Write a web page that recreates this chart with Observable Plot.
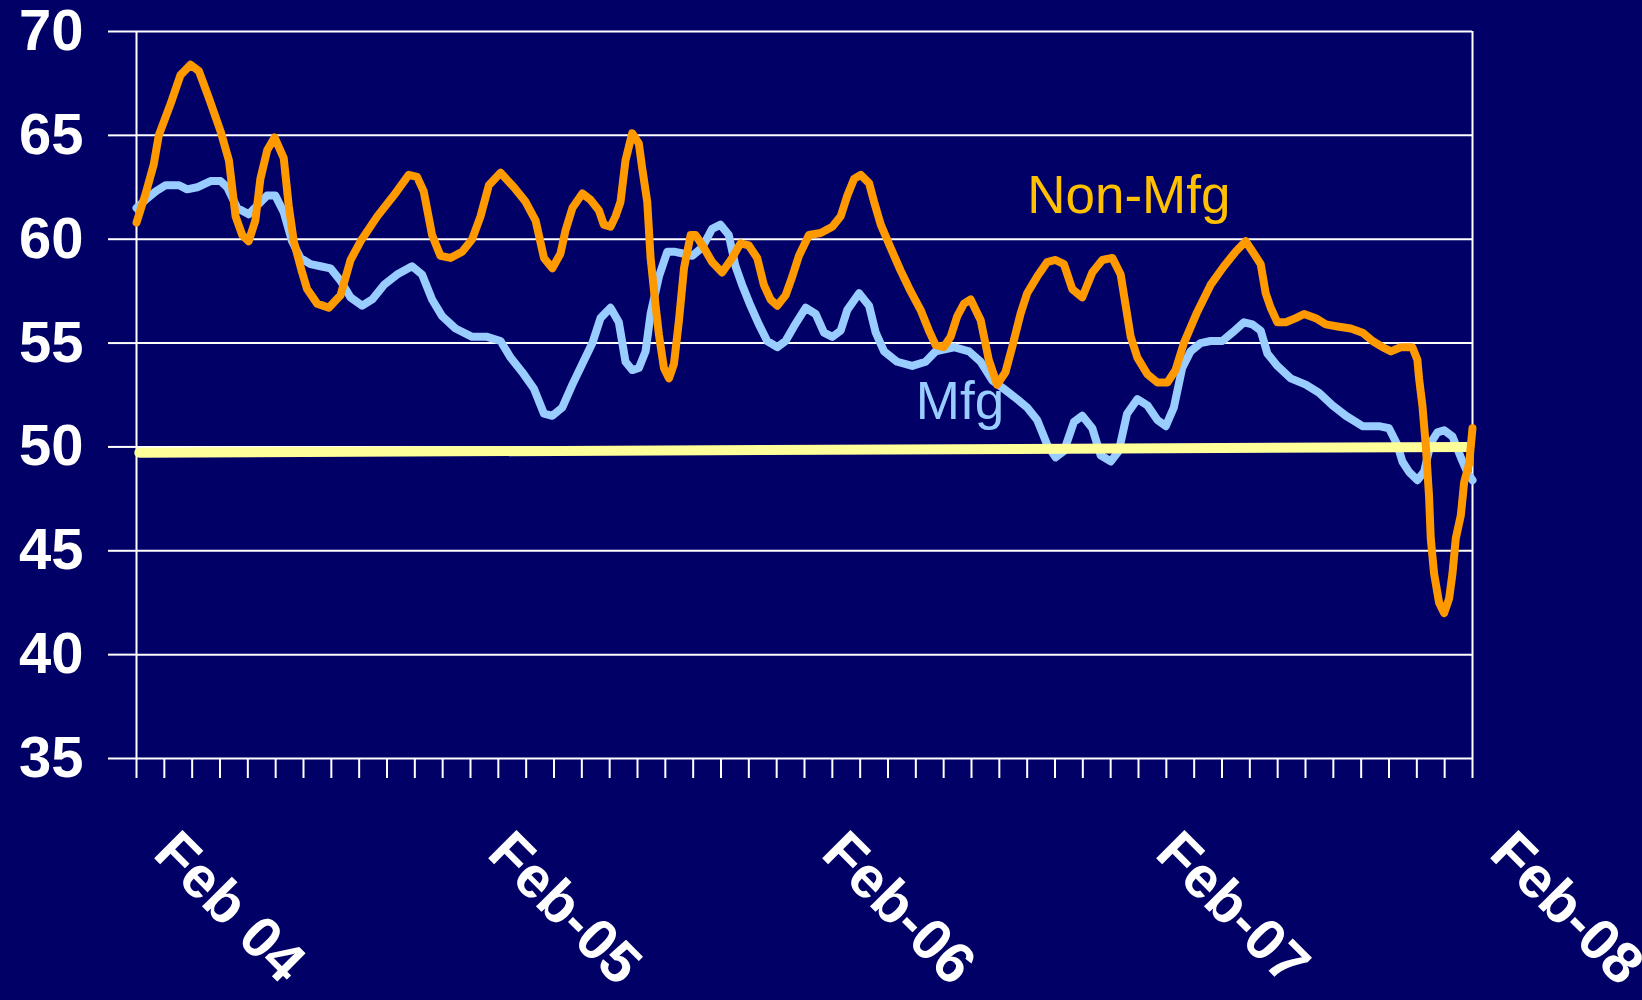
<!DOCTYPE html>
<html>
<head>
<meta charset="utf-8">
<script src="https://cdn.jsdelivr.net/npm/d3@7"></script>
<script src="https://cdn.jsdelivr.net/npm/@observablehq/plot@0.6"></script>
<style>
html, body { margin: 0; padding: 0; background: #000066; }
#chart svg [aria-label^="y-axis"] path,
#chart svg [aria-label^="y-axis"] line,
#chart svg [aria-label^="x-axis"] path,
#chart svg [aria-label^="x-axis"] line { stroke: #ffffff; stroke-width: 2px; stroke-opacity: 1; }
</style>
</head>
<body>
<div id="chart"></div>
<script>
// ---- axis data ----
const yTicks = [35, 40, 45, 50, 55, 60, 65, 70];
const monthTicks = d3.range(0, 49);           // one tick per month, Feb 2004 .. Feb 2008
const labelMonths = [0, 12, 24, 36, 48];
const labelTexts = ["Feb 04", "Feb-05", "Feb-06", "Feb-07", "Feb-08"];

// ---- Non-Mfg series (month offset from Feb 2004, index value) ----
const nonMfgT = [0, 0.33, 0.62, 0.8, 1.22, 1.58, 1.94, 2.24, 2.6, 3.02, 3.32, 3.56, 3.8, 4.03, 4.27, 4.45, 4.7, 4.96, 5.29, 5.47, 5.65, 5.95, 6.13, 6.49, 6.91, 7.33, 7.69, 8.05, 8.65, 9.24, 9.78,
  10.08, 10.32, 10.62, 10.92, 11.28, 11.7, 12.06, 12.36, 12.66, 13.08, 13.56, 13.98, 14.34, 14.64, 14.94, 15.23, 15.41, 15.66, 16.02, 16.31, 16.61, 16.79, 17.03, 17.21, 17.39, 17.57, 17.81, 18.05, 18.17, 18.35, 18.47, 18.65, 18.77, 18.95, 19.13, 19.31, 19.49, 19.67,
  19.91, 20.09, 20.38, 20.68, 21.04, 21.4, 21.7, 22.0, 22.3, 22.54, 22.78, 23.02, 23.32, 23.56, 23.8, 24.16, 24.58, 25.0, 25.3, 25.54, 25.78, 26.02, 26.32, 26.5, 26.74, 27.09, 27.45, 27.81, 28.17, 28.47, 28.71, 29.0, 29.25, 29.49, 29.73,
  29.97, 30.33, 30.62, 30.92, 31.22, 31.46, 31.76, 32.0, 32.36, 32.72, 33.02, 33.32, 33.62, 33.98, 34.34, 34.7, 35.06, 35.36, 35.54, 35.72, 35.96, 36.32, 36.68, 37.04, 37.33, 37.63, 38.11, 38.59, 39.07, 39.49,
  39.85, 40.15, 40.39, 40.57, 40.75, 40.99, 41.29, 41.65, 41.95, 42.37, 42.73, 43.15, 43.63, 44.05, 44.41, 44.77, 45.07, 45.42, 45.84, 46.02, 46.08, 46.2, 46.32, 46.44, 46.5, 46.62, 46.8, 46.98, 47.16, 47.28, 47.4, 47.58, 47.7, 47.88, 48.0];
const nonMfgV = [60.8, 62.2, 63.6, 65.0, 66.5, 67.9, 68.4, 68.1, 66.8, 65.2, 63.8, 61.1, 60.2, 59.9, 60.9, 62.9, 64.3, 64.9, 63.9, 61.6, 59.9, 58.4, 57.6, 56.9, 56.7, 57.3, 59.0, 59.9, 61.1, 62.1, 63.1,
  63.0, 62.3, 60.2, 59.2, 59.1, 59.4, 60.0, 61.1, 62.6, 63.2, 62.5, 61.8, 60.9, 59.1, 58.6, 59.3, 60.4, 61.5, 62.2, 61.9, 61.4, 60.7, 60.6, 61.1, 61.8, 63.8, 65.1, 64.6, 63.4, 61.8, 59.1, 56.8, 55.4, 53.8, 53.3, 54.0, 56.1, 58.6,
  60.2, 60.2, 59.6, 58.9, 58.4, 59.1, 59.8, 59.7, 59.1, 57.8, 57.1, 56.8, 57.3, 58.2, 59.2, 60.2, 60.3, 60.6, 61.1, 62.1, 62.9, 63.1, 62.7, 61.8, 60.7, 59.6, 58.5, 57.5, 56.6, 55.6, 54.9, 54.8, 55.3, 56.3, 56.9,
  57.1, 56.1, 54.2, 53.0, 53.6, 54.8, 56.4, 57.4, 58.2, 58.9, 59.0, 58.8, 57.6, 57.2, 58.4, 59.0, 59.1, 58.3, 56.8, 55.3, 54.3, 53.5, 53.1, 53.1, 53.7, 55.0, 56.5, 57.8, 58.7, 59.4,
  59.9, 59.3, 58.8, 57.4, 56.7, 56.0, 56.0, 56.2, 56.4, 56.2, 55.9, 55.8, 55.7, 55.5, 55.1, 54.8, 54.6, 54.8, 54.8, 54.2, 53.3, 52.0, 50.1, 47.6, 45.6, 43.9, 42.5, 42.0, 42.7, 43.9, 45.6, 46.7, 48.3, 49.2, 50.9];

// ---- Mfg series ----
const mfgT = [0, 0.33, 0.69, 1.05, 1.53, 1.82, 2.18, 2.66, 3.02, 3.26, 3.62, 4.03, 4.39, 4.69, 4.99, 5.29, 5.59, 5.89, 6.25, 6.61, 6.97, 7.33, 7.69, 8.11, 8.47, 8.89, 9.36, 9.9,
  10.26, 10.62, 10.98, 11.46, 12.06, 12.6, 13.08, 13.44, 13.86, 14.28, 14.64, 14.94, 15.3, 15.66, 16.02, 16.38, 16.67, 17.03, 17.33, 17.57, 17.81, 18.05, 18.29, 18.47, 18.77, 19.07, 19.31, 19.67,
  19.97, 20.32, 20.68, 20.98, 21.28, 21.52, 21.76, 22.06, 22.36, 22.66, 23.02, 23.32, 23.62, 24.04, 24.4, 24.7, 25.0, 25.3, 25.54, 25.96, 26.32, 26.56, 26.86, 27.33, 27.87, 28.35, 28.71, 29.37, 29.91,
  30.33, 30.75, 31.16, 31.64, 32.0, 32.36, 32.72, 33.02, 33.32, 33.68, 33.98, 34.34, 34.64, 35.0, 35.29, 35.59, 35.96, 36.32, 36.68, 36.98, 37.27, 37.57, 37.87, 38.23, 38.59, 39.01, 39.37,
  39.79, 40.09, 40.39, 40.63, 40.99, 41.47, 42.01, 42.49, 42.97, 43.45, 44.05, 44.64, 45.0, 45.3, 45.48, 45.72, 46.02, 46.26, 46.5, 46.74, 46.98, 47.28, 47.58, 47.84, 48.0];
const mfgV = [61.5, 61.9, 62.3, 62.6, 62.6, 62.4, 62.5, 62.8, 62.8, 62.5, 61.5, 61.2, 61.7, 62.1, 62.1, 61.3, 59.9, 59.1, 58.8, 58.7, 58.6, 58.0, 57.2, 56.8, 57.1, 57.8, 58.3, 58.7,
  58.3, 57.1, 56.3, 55.7, 55.3, 55.3, 55.1, 54.3, 53.6, 52.8, 51.6, 51.5, 51.9, 53.0, 54.0, 55.0, 56.2, 56.7, 56.0, 54.1, 53.7, 53.8, 54.6, 56.4, 58.2, 59.4, 59.4, 59.3,
  59.2, 59.6, 60.5, 60.7, 60.2, 58.7, 57.8, 56.8, 55.9, 55.1, 54.8, 55.1, 55.8, 56.7, 56.4, 55.5, 55.3, 55.6, 56.6, 57.4, 56.8, 55.5, 54.6, 54.1, 53.9, 54.1, 54.6, 54.8, 54.6,
  54.1, 53.2, 52.8, 52.3, 51.9, 51.3, 50.1, 49.5, 49.8, 51.2, 51.5, 50.9, 49.6, 49.3, 49.8, 51.6, 52.3, 52.0, 51.3, 51.0, 51.9, 53.8, 54.6, 55.0, 55.1, 55.1, 55.5,
  56.0, 55.9, 55.6, 54.5, 53.9, 53.3, 53.0, 52.6, 52.0, 51.5, 51.0, 51.0, 50.9, 50.1, 49.3, 48.8, 48.4, 48.8, 50.2, 50.7, 50.8, 50.5, 49.5, 48.7, 48.4];

// ---- 50 reference line (slightly rising) ----
const refT = [0.1, 47.8];
const refV = [49.72, 50.0];

// ---- series name labels ----
const seriesNames = ["Non-Mfg", "Mfg"];
const seriesLabelT = [32.0, 28.0];
const seriesLabelV = [61.28, 51.35];
const seriesLabelColors = ["#FFC000", "#99CCFF"];

const nonMfg = nonMfgT.map((t, i) => ({t, v: nonMfgV[i]}));
const mfg = mfgT.map((t, i) => ({t, v: mfgV[i]}));
const ref = refT.map((t, i) => ({t, v: refV[i]}));
const xLabels = labelMonths.map((m, i) => ({m, label: labelTexts[i]}));
const seriesLabels = seriesNames.map((s, i) => ({s, t: seriesLabelT[i], v: seriesLabelV[i], c: seriesLabelColors[i]}));

const chart = Plot.plot({
  width: 1642,
  height: 1000,
  marginTop: 31,
  marginBottom: 242,
  marginLeft: 136,
  marginRight: 170,
  style: {
    background: "#000066",
    color: "#ffffff",
    fontFamily: "'Liberation Sans', Arial, sans-serif",
    fontSize: "58px",
    fontWeight: "bold",
    overflow: "visible"
  },
  x: {domain: [0, 48], ticks: monthTicks, tickSize: 20, tickFormat: () => "", label: null},
  y: {domain: [35, 70], ticks: yTicks, tickSize: 28, tickPadding: 25, label: null},
  marks: [
    Plot.ruleY(yTicks, {stroke: "#ffffff", strokeWidth: 2}),
    Plot.ruleX([0, 48], {stroke: "#ffffff", strokeWidth: 2}),
    Plot.line(mfg, {x: "t", y: "v", stroke: "#99CCFF", strokeWidth: 8, strokeLinejoin: "round", strokeLinecap: "round"}),
    Plot.line(ref, {x: "t", y: "v", stroke: "#FFFF99", strokeWidth: 10}),
    Plot.line(nonMfg, {x: "t", y: "v", stroke: "#FF9900", strokeWidth: 8, strokeLinejoin: "round", strokeLinecap: "round"}),
    Plot.text(xLabels, {x: "m", frameAnchor: "bottom", text: "label", rotate: 45, textAnchor: "start", lineAnchor: "top",
      dx: 44, dy: 68, fill: "#ffffff", fontSize: 58, fontWeight: "bold"}),
    Plot.text(seriesLabels, {x: "t", y: "v", text: "s", fill: "c", textAnchor: "start", lineAnchor: "bottom",
      fontSize: 53, fontWeight: "normal"})
  ]
});
document.getElementById("chart").appendChild(chart);
</script>
</body>
</html>
